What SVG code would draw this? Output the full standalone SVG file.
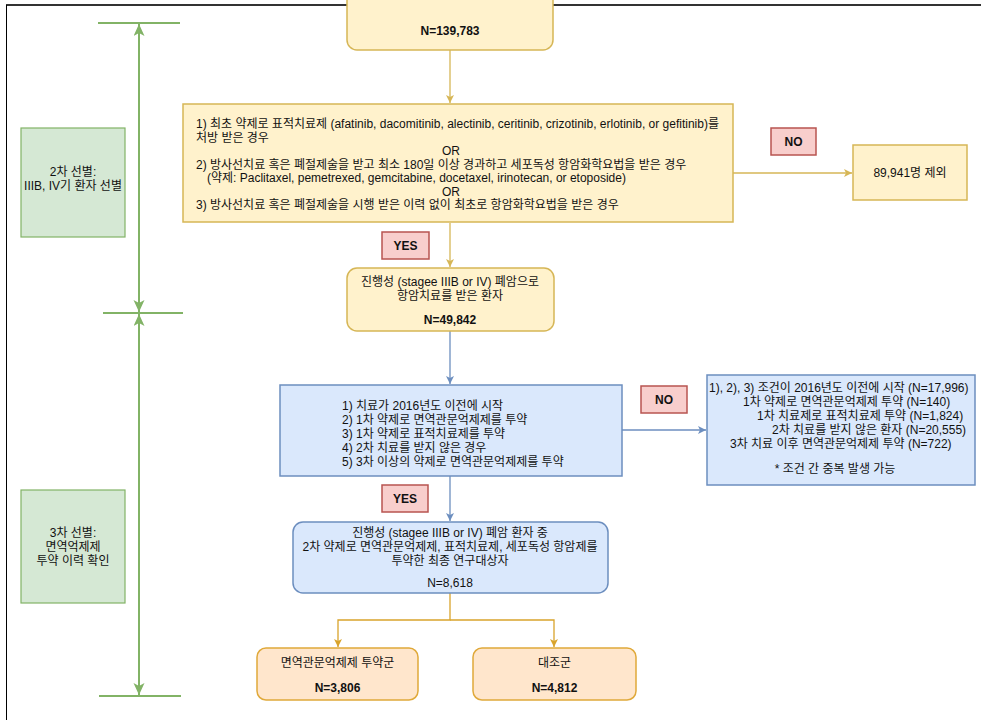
<svg xmlns="http://www.w3.org/2000/svg" width="981" height="720" viewBox="0 0 981 720">
<style>
text{font-family:"Liberation Sans","Noto Sans CJK KR",sans-serif;font-size:12px;fill:#111111}
.c{text-anchor:middle}
.b{font-weight:bold}
.y{fill:#fff2cc;stroke:#d6b656;stroke-width:1.5}
.bl{fill:#dae8fc;stroke:#6c8ebf;stroke-width:1.5}
.g{fill:#d5e8d4;stroke:#82b366;stroke-width:1.2}
.r{fill:#f8cecc;stroke:#b85450;stroke-width:1.5}
.o{fill:#ffe6cc;stroke:#e0a93a;stroke-width:1.5}
.ey{fill:none;stroke:#d6b656;stroke-width:1.3}
.eb{fill:none;stroke:#6c8ebf;stroke-width:1.3}
.eo{fill:none;stroke:#d9a42c;stroke-width:1.3}
.eg{fill:none;stroke:#82b366;stroke-width:2}
</style>
<defs>
<marker id="ay" markerUnits="userSpaceOnUse" markerWidth="10" markerHeight="10" refX="8" refY="4" orient="auto"><path d="M0,0 L8,4 L0,8 L2,4 Z" fill="#d6b656"/></marker>
<marker id="ab" markerUnits="userSpaceOnUse" markerWidth="10" markerHeight="10" refX="8" refY="4" orient="auto"><path d="M0,0 L8,4 L0,8 L2,4 Z" fill="#6c8ebf"/></marker>
<marker id="ao" markerUnits="userSpaceOnUse" markerWidth="10" markerHeight="10" refX="8" refY="4" orient="auto"><path d="M0,0 L8,4 L0,8 L2,4 Z" fill="#d9a42c"/></marker>
<marker id="ag" markerUnits="userSpaceOnUse" markerWidth="14" markerHeight="12" refX="12" refY="5.5" orient="auto-start-reverse"><path d="M0,0 L12,5.5 L0,11 L3,5.5 Z" fill="#82b366"/></marker>
</defs>
<rect width="981" height="720" fill="#ffffff"/>
<g id="frame">
<line x1="6" y1="5" x2="981" y2="5" stroke="#333333" stroke-width="2"/>
<line x1="6.5" y1="5" x2="6.5" y2="720" stroke="#000000" stroke-width="1"/>
</g>
<g id="connectors">
<line class="ey" x1="450" y1="50" x2="450" y2="103" marker-end="url(#ay)"/>
<line class="ey" x1="733" y1="173" x2="852" y2="173" marker-end="url(#ay)"/>
<line class="ey" x1="450" y1="223" x2="450" y2="267" marker-end="url(#ay)"/>
<line class="eb" x1="450" y1="331" x2="450" y2="384" marker-end="url(#ab)"/>
<line class="eb" x1="622" y1="430" x2="706" y2="430" marker-end="url(#ab)"/>
<line class="eb" x1="450" y1="476" x2="450" y2="521" marker-end="url(#ab)"/>
<polyline class="eo" points="450,593 450,620 338,620 338,647" marker-end="url(#ao)"/>
<polyline class="eo" points="450,620 554,620 554,647" marker-end="url(#ao)"/>
<line class="eg" x1="98" y1="23" x2="180" y2="23"/>
<line class="eg" x1="103" y1="313" x2="183" y2="313"/>
<line class="eg" x1="99" y1="696" x2="181" y2="696"/>
<line class="eg" x1="139" y1="24" x2="139" y2="312" marker-start="url(#ag)" marker-end="url(#ag)"/>
<line class="eg" x1="139" y1="314" x2="139" y2="695" marker-start="url(#ag)" marker-end="url(#ag)"/>
</g>
<g id="n_total">
<rect class="y" x="347" y="-12" width="206" height="62" rx="10"/>
<text class="c b" x="450" y="35">N=139,783</text>
</g>
<g id="n_criteria1">
<rect class="y" x="183" y="104" width="550" height="118"/>
<text x="196" y="128">1) 최초 약제로 표적치료제 (afatinib, dacomitinib, alectinib, ceritinib, crizotinib, erlotinib, or gefitinib)를</text>
<text x="196" y="141.5">처방 받은 경우</text>
<text class="c" x="451" y="155">OR</text>
<text x="196" y="168.5">2) 방사선치료 혹은 폐절제술을 받고 최소 180일 이상 경과하고 세포독성 항암화학요법을 받은 경우</text>
<text x="207" y="182">(약제: Paclitaxel, pemetrexed, gemcitabine, docetaxel, irinotecan, or etoposide)</text>
<text class="c" x="451" y="195.5">OR</text>
<text x="196" y="209">3) 방사선치료 혹은 폐절제술을 시행 받은 이력 없이 최초로 항암화학요법을 받은 경우</text>
</g>
<g id="n_no1">
<rect class="r" x="771" y="128" width="45" height="27"/>
<text class="c b" x="793.5" y="146">NO</text>
</g>
<g id="n_excl1">
<rect class="y" x="853" y="145" width="114" height="55"/>
<text class="c" x="910" y="177">89,941명 제외</text>
</g>
<g id="n_stage2">
<rect class="g" x="21" y="128" width="104" height="109"/>
<text class="c" x="73" y="176">2차 선별:</text>
<text class="c" x="73" y="190">IIIB, IV기 환자 선별</text>
</g>
<g id="n_yes1">
<rect class="r" x="382" y="232" width="47" height="27"/>
<text class="c b" x="405.5" y="250">YES</text>
</g>
<g id="n_advanced">
<rect class="y" x="347" y="268" width="207" height="63" rx="10"/>
<text class="c" x="450" y="286">진행성 (stagee IIIB or IV) 폐암으로</text>
<text class="c" x="450" y="300">항암치료를 받은 환자</text>
<text class="c b" x="450" y="324">N=49,842</text>
</g>
<g id="n_criteria2">
<rect class="bl" x="280" y="385" width="342" height="91"/>
<text x="342" y="410">1) 치료가 2016년도 이전에 시작</text>
<text x="342" y="424">2) 1차 약제로 면역관문억제제를 투약</text>
<text x="342" y="438">3) 1차 약제로 표적치료제를 투약</text>
<text x="342" y="452">4) 2차 치료를 받지 않은 경우</text>
<text x="342" y="466">5) 3차 이상의 약제로 면역관문억제제를 투약</text>
</g>
<g id="n_no2">
<rect class="r" x="641" y="386" width="46" height="27"/>
<text class="c b" x="664" y="404">NO</text>
</g>
<g id="n_excl2">
<rect class="bl" x="707" y="375" width="268" height="110"/>
<text x="709" y="392">1), 2), 3) 조건이 2016년도 이전에 시작 (N=17,996)</text>
<text x="743" y="406">1차 약제로 면역관문억제제 투약 (N=140)</text>
<text x="757" y="420">1차 치료제로 표적치료제 투약 (N=1,824)</text>
<text x="772" y="434">2차 치료를 받지 않은 환자 (N=20,555)</text>
<text x="730" y="448">3차 치료 이후 면역관문억제제 투약 (N=722)</text>
<text class="c" x="835" y="473">* 조건 간 중복 발생 가능</text>
</g>
<g id="n_stage3">
<rect class="g" x="21" y="490" width="104" height="113"/>
<text class="c" x="73" y="537">3차 선별:</text>
<text class="c" x="73" y="551">면역억제제</text>
<text class="c" x="73" y="565">투약 이력 확인</text>
</g>
<g id="n_yes2">
<rect class="r" x="382" y="485" width="46" height="27"/>
<text class="c b" x="405" y="503">YES</text>
</g>
<g id="n_final">
<rect class="bl" x="293" y="522" width="315" height="71" rx="10"/>
<text class="c" x="450" y="537">진행성 (stagee IIIB or IV) 폐암 환자 중</text>
<text class="c" x="450" y="551">2차 약제로 면역관문억제제, 표적치료제, 세포독성 항암제를</text>
<text class="c" x="450" y="565">투약한 최종 연구대상자</text>
<text class="c" x="450" y="587">N=8,618</text>
</g>
<g id="n_icigroup">
<rect class="o" x="257" y="648" width="161" height="52" rx="9"/>
<text class="c" x="337.5" y="667">면역관문억제제 투약군</text>
<text class="c b" x="337.5" y="692">N=3,806</text>
</g>
<g id="n_control">
<rect class="o" x="473" y="648" width="163" height="52" rx="9"/>
<text class="c" x="554.5" y="667">대조군</text>
<text class="c b" x="554.5" y="692">N=4,812</text>
</g>
</svg>
